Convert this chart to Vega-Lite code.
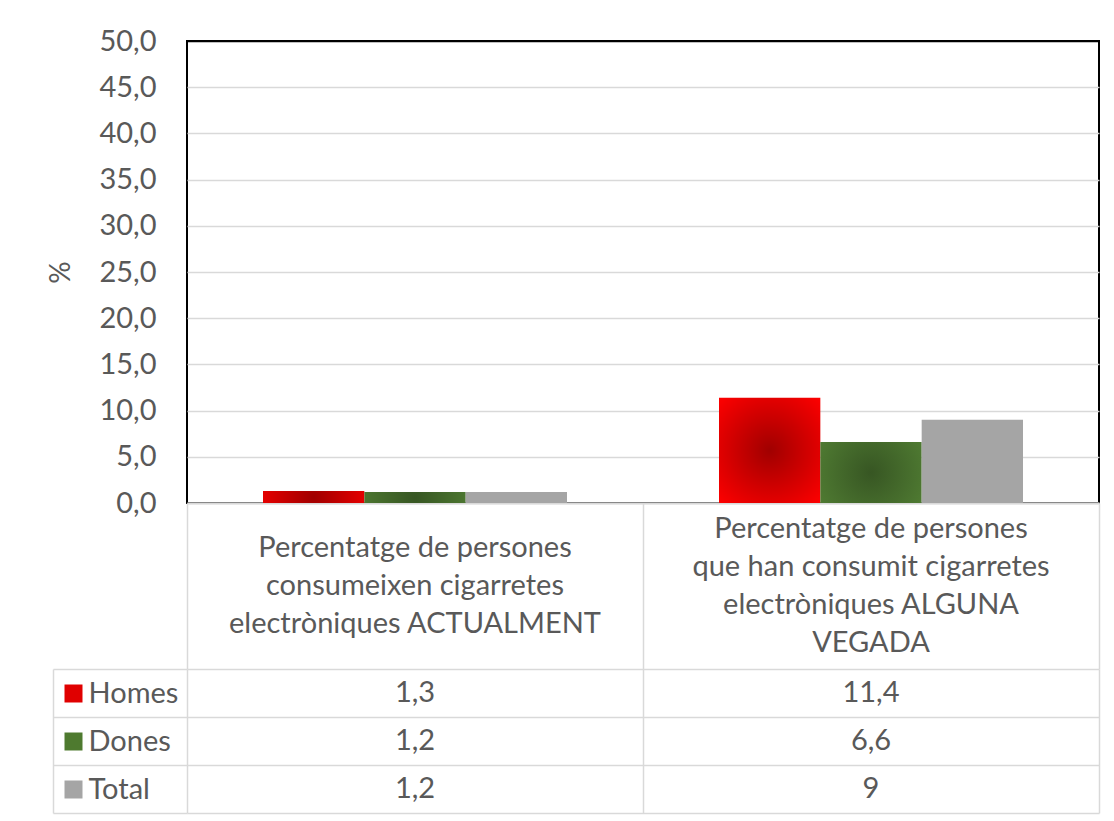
{
  "$schema": "https://vega.github.io/schema/vega-lite/v6.json",
  "padding": {"left": 46, "top": 26, "right": 5, "bottom": 5},
  "background": "white",
  "bounds": "flush",
  "spacing": 0,
  "config": {
    "locale": {"number": {"decimal": ",", "thousands": ".", "grouping": [3], "currency": ["", " €"]}},
    "font": "Lato",
    "axis": {"labelFont": "Lato", "titleFont": "Lato"},
    "text": {"font": "Lato"}
  },
  "datasets": {
    "dades": [
      {"categoria": "Percentatge de persones\nconsumeixen cigarretes\nelectròniques ACTUALMENT", "serie": "Homes", "valor": 1.3},
      {"categoria": "Percentatge de persones\nconsumeixen cigarretes\nelectròniques ACTUALMENT", "serie": "Dones", "valor": 1.2},
      {"categoria": "Percentatge de persones\nconsumeixen cigarretes\nelectròniques ACTUALMENT", "serie": "Total", "valor": 1.2},
      {"categoria": "Percentatge de persones\nque han consumit cigarretes\nelectròniques ALGUNA\nVEGADA", "serie": "Homes", "valor": 11.4},
      {"categoria": "Percentatge de persones\nque han consumit cigarretes\nelectròniques ALGUNA\nVEGADA", "serie": "Dones", "valor": 6.6},
      {"categoria": "Percentatge de persones\nque han consumit cigarretes\nelectròniques ALGUNA\nVEGADA", "serie": "Total", "valor": 9}
    ]
  },
  "vconcat": [
    {
      "width": 912,
      "height": 462,
      "data": {"name": "dades"},
      "view": {"stroke": "black", "strokeWidth": 2},
      "mark": {"type": "bar"},
      "encoding": {
        "x": {
          "field": "categoria", "type": "nominal",
          "scale": {"paddingInner": 0, "paddingOuter": 0},
          "axis": {"labels": false, "ticks": false, "title": null, "grid": false, "domainColor": "#d9d9d9", "domainWidth": 2}
        },
        "xOffset": {
          "field": "serie", "type": "nominal", "sort": ["Homes", "Dones", "Total"],
          "scale": {"paddingInner": 0, "paddingOuter": 0.75}
        },
        "y": {
          "field": "valor", "type": "quantitative",
          "scale": {"domain": [0, 50]},
          "axis": {
            "values": [0, 5, 10, 15, 20, 25, 30, 35, 40, 45, 50],
            "format": ".1f",
            "title": "%",
            "domain": false,
            "ticks": false,
            "labelFontSize": 29,
            "labelColor": "#595959",
            "labelPadding": 31,
            "titleFontSize": 28,
            "titleFontWeight": "normal",
            "titleColor": "#595959",
            "titlePadding": 23,
            "gridColor": {"condition": {"test": "datum.value === 50", "value": "black"}, "value": "#d9d9d9"},
            "gridWidth": 1.5
          }
        },
        "fill": {
          "condition": [
            {"test": "datum.serie === 'Homes'", "value": {"gradient": "radial", "x1": 0.5, "y1": 0.5, "r1": 0, "x2": 0.5, "y2": 0.5, "r2": 0.7, "stops": [{"offset": 0, "color": "#a00000"}, {"offset": 1, "color": "#ff0000"}]}},
            {"test": "datum.serie === 'Dones'", "value": {"gradient": "radial", "x1": 0.5, "y1": 0.5, "r1": 0, "x2": 0.5, "y2": 0.5, "r2": 0.7, "stops": [{"offset": 0, "color": "#375623"}, {"offset": 1, "color": "#548235"}]}}
          ],
          "value": "#a5a5a5"
        }
      }
    },
    {
      "width": 912,
      "height": 166,
      "data": {"name": "dades"},
      "transform": [{"filter": "datum.serie === 'Total'"}],
      "view": {"stroke": null},
      "mark": {
        "type": "text", "lineBreak": "\n", "lineHeight": 38, "fontSize": 29, "color": "#595959",
        "baseline": "middle", "align": "center",
        "dy": {"expr": "-(length(split(datum.categoria, '\\n')) - 1) * 19"}
      },
      "encoding": {
        "x": {
          "field": "categoria", "type": "nominal",
          "scale": {"paddingInner": 0, "paddingOuter": 0},
          "axis": {"labels": false, "ticks": false, "domain": false, "title": null, "grid": true, "tickBand": "extent", "gridColor": "#d9d9d9", "gridWidth": 1.5}
        },
        "text": {"field": "categoria", "type": "nominal"}
      }
    },
    {
      "width": 912,
      "height": 144,
      "data": {"name": "dades"},
      "view": {"stroke": null},
      "layer": [
        {
          "mark": {"type": "text", "fontSize": 29, "color": "#595959", "baseline": "middle", "align": "center"},
          "encoding": {
            "x": {
              "field": "categoria", "type": "nominal",
              "scale": {"paddingInner": 0, "paddingOuter": 0},
              "axis": {"labels": false, "ticks": false, "domain": false, "title": null, "grid": true, "tickBand": "extent", "gridColor": "#d9d9d9", "gridWidth": 1.5}
            },
            "y": {
              "field": "serie", "type": "nominal", "sort": ["Homes", "Dones", "Total"],
              "scale": {"paddingInner": 0, "paddingOuter": 0},
              "axis": {
                "title": null, "orient": "left", "offset": 134,
                "domainColor": "#d9d9d9", "domainWidth": 1.5,
                "tickBand": "extent", "tickSize": -134, "tickColor": "#d9d9d9", "tickWidth": 1.5,
                "grid": true, "gridColor": "#d9d9d9", "gridWidth": 1.5,
                "labelAlign": "left", "labelPadding": 99, "labelFontSize": 29, "labelColor": "#595959"
              }
            },
            "text": {"field": "valor", "type": "quantitative", "format": ".3~g"}
          }
        },
        {
          "mark": {"type": "rect", "opacity": 0},
          "encoding": {
            "x": {"field": "categoria", "type": "nominal"},
            "y": {
              "field": "serie", "type": "nominal", "sort": ["Homes", "Dones", "Total"],
              "scale": {"paddingInner": 0, "paddingOuter": 0},
              "axis": {
                "title": null, "orient": "left", "offset": 105,
                "domain": false, "labels": false, "grid": false,
                "tickSize": 18, "tickWidth": 18,
                "tickColor": {"expr": "datum.value === 'Homes' ? '#e00000' : datum.value === 'Dones' ? '#4e7a2f' : '#a5a5a5'"}
              }
            }
          }
        }
      ],
      "resolve": {"scale": {"y": "independent"}}
    }
  ]
}
